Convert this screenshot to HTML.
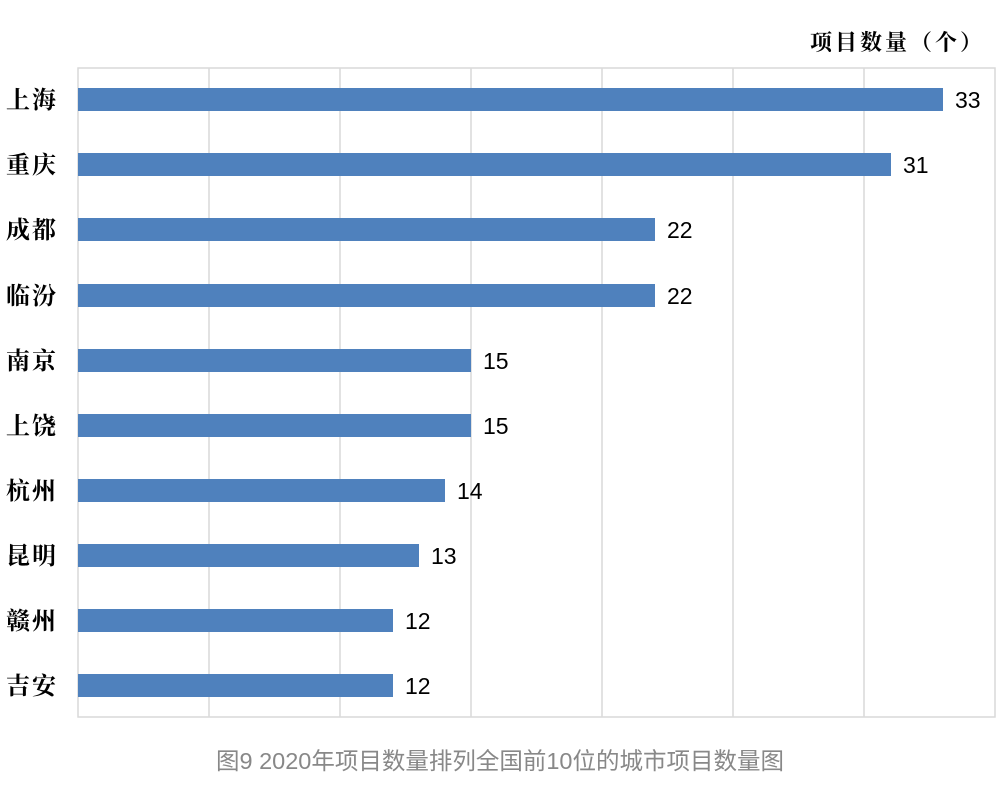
<!DOCTYPE html>
<html><head><meta charset="utf-8"><style>
body{margin:0;background:#fff;width:1004px;height:780px;overflow:hidden}
</style></head><body>
<svg width="1004" height="780" xmlns="http://www.w3.org/2000/svg">
<rect x="78" y="68" width="917" height="649" fill="none" stroke="#d9d9d9" stroke-width="1.5"/>
<g stroke="#d9d9d9" stroke-width="1.5">
<line x1="209" y1="68" x2="209" y2="717"/><line x1="340" y1="68" x2="340" y2="717"/>
<line x1="471" y1="68" x2="471" y2="717"/><line x1="602" y1="68" x2="602" y2="717"/>
<line x1="733" y1="68" x2="733" y2="717"/><line x1="864" y1="68" x2="864" y2="717"/>
</g>
<text x="810" y="50" font-family="'Noto Serif CJK SC',serif" font-weight="bold" font-size="22" letter-spacing="3" fill="#000">项目数量（个）</text>
<g fill="#4f81bd">
<rect x="78" y="88" width="865" height="23"/>
<rect x="78" y="153" width="813" height="23"/>
<rect x="78" y="218" width="577" height="23"/>
<rect x="78" y="284" width="577" height="23"/>
<rect x="78" y="349" width="393" height="23"/>
<rect x="78" y="414" width="393" height="23"/>
<rect x="78" y="479" width="367" height="23"/>
<rect x="78" y="544" width="341" height="23"/>
<rect x="78" y="609" width="315" height="23"/>
<rect x="78" y="674" width="315" height="23"/>
</g>
<g font-family="'Liberation Sans',sans-serif" font-size="23" fill="#000">
<text x="955" y="108">33</text><text x="903" y="173">31</text>
<text x="667" y="238">22</text><text x="667" y="304">22</text>
<text x="483" y="369">15</text><text x="483" y="434">15</text>
<text x="457" y="499">14</text><text x="431" y="564">13</text>
<text x="405" y="629">12</text><text x="405" y="694">12</text>
</g>
<g font-family="'Noto Serif CJK SC',serif" font-weight="bold" font-size="24" letter-spacing="2" fill="#000">
<text x="6" y="108">上海</text><text x="6" y="173">重庆</text>
<text x="6" y="238">成都</text><text x="6" y="304">临汾</text>
<text x="6" y="369">南京</text><text x="6" y="434">上饶</text>
<text x="6" y="499">杭州</text><text x="6" y="564">昆明</text>
<text x="6" y="629">赣州</text><text x="6" y="694">吉安</text>
</g>
<text x="500" y="769" text-anchor="middle" font-family="'Liberation Sans','Noto Sans CJK SC',sans-serif" font-size="23.5" fill="#888">图9 2020年项目数量排列全国前10位的城市项目数量图</text>
</svg>
</body></html>
